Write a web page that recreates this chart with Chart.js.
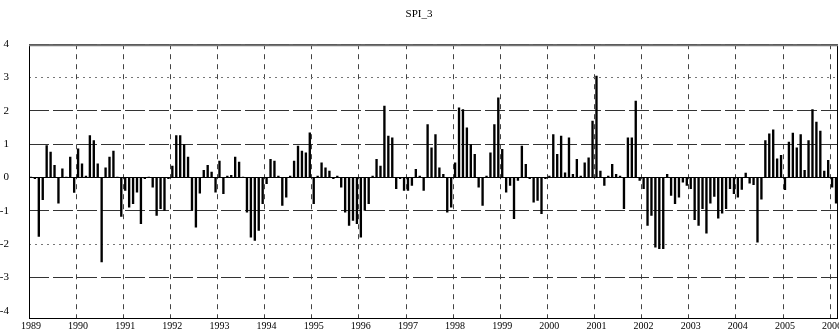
<!DOCTYPE html>
<html>
<head>
<meta charset="utf-8">
<script src="https://cdn.jsdelivr.net/npm/chart.js@4"></script>
<style>
html, body { margin: 0; padding: 0; background: #fff; }
#wrap { width: 839px; height: 330px; }
</style>
</head>
<body>
<div id="wrap"><canvas id="spiChart" width="839" height="330"></canvas></div>
<script>
// monthly SPI_3, Jan 1989 .. Feb 2006
const years = [1989, 1990, 1991, 1992, 1993, 1994, 1995, 1996, 1997, 1998, 1999, 2000, 2001, 2002, 2003, 2004, 2005, 2006];
const spi3 = [
  0.02, -0.05, -1.78, -0.68, 0.97, 0.77, 0.37, -0.78, 0.27, 0.02, 0.62, -0.46,   // 1989
  0.87, 0.42, 0.05, 1.27, 1.12, 0.42, -2.55, 0.3, 0.62, 0.8, 0.02, -1.18,         // 1990
  -0.4, -0.9, -0.8, -0.45, -1.4, -0.05, 0.02, -0.3, -1.15, -0.95, -1.0, -0.05,    // 1991
  0.35, 1.27, 1.27, 1.0, 0.62, -1.0, -1.5, -0.48, 0.22, 0.37, 0.17, -0.45,        // 1992
  0.5, -0.5, 0.05, 0.07, 0.62, 0.47, 0.02, -1.05, -1.8, -1.9, -1.6, -0.8,         // 1993
  -0.2, 0.55, 0.5, 0.05, -0.85, -0.6, 0.05, 0.5, 0.95, 0.8, 0.75, 1.35,           // 1994
  -0.8, 0.05, 0.45, 0.3, 0.2, -0.05, 0.05, -0.3, -1.05, -1.45, -1.3, -1.4,        // 1995
  -1.8, -1.0, -0.8, 0.05, 0.55, 0.35, 2.15, 1.25, 1.2, -0.35, -0.05, -0.4,        // 1996
  -0.4, -0.25, 0.25, 0.05, -0.4, 1.6, 0.9, 1.3, 0.3, 0.1, -1.05, -0.9,            // 1997
  0.45, 2.1, 2.05, 1.5, 1.0, 0.7, -0.3, -0.85, 0.05, 0.75, 1.6, 2.4,              // 1998
  0.85, -0.45, -0.25, -1.25, -0.1, 0.95, 0.4, -0.05, -0.75, -0.7, -1.1, -0.05,    // 1999
  0.05, 1.3, 0.7, 1.25, 0.15, 1.2, 0.1, 0.55, 0.05, 0.45, 0.6, 1.7,               // 2000
  3.05, 0.2, -0.25, 0.05, 0.4, 0.1, 0.05, -0.95, 1.2, 1.2, 2.3, -0.1,             // 2001
  -0.35, -1.45, -1.15, -2.1, -2.15, -2.15, 0.1, -0.55, -0.8, -0.6, -0.15, -0.25,  // 2002
  -0.35, -1.28, -1.45, -0.95, -1.68, -0.78, -0.58, -1.23, -1.08, -0.95, -0.35, -0.5, // 2003
  -0.6, -0.37, 0.14, -0.18, -0.23, -1.95, -0.66, 1.12, 1.32, 1.44, 0.57, 0.67,    // 2004
  -0.38, 1.07, 1.34, 0.9, 1.3, 0.22, 1.12, 2.05, 1.67, 1.4, 0.2, 0.52,            // 2005
  -0.3, -0.78                                                                     // 2006
];
const yTicks = [4, 3, 2, 1, 0, -1, -2, -3, -4];

const months = [];
years.forEach(y => { for (let m = 1; m <= 12; m++) months.push(y + '-' + m); });
const labels = months.slice(0, spi3.length);

const serif = 'Liberation Serif, Times New Roman, serif';

// box round the plot
const framePlugin = {
  id: 'frame',
  afterDraw(chart) {
    const { ctx, chartArea: a } = chart;
    ctx.save();
    ctx.strokeStyle = '#000';
    ctx.lineWidth = 1;
    ctx.strokeRect(a.left + 0.5, a.top + 0.5, a.right - a.left - 1, a.bottom - a.top - 1);
    ctx.strokeStyle = '#777';
    ctx.lineWidth = 2;
    ctx.beginPath();
    ctx.moveTo(a.left, a.top + 1);
    ctx.lineTo(a.right, a.top + 1);
    ctx.stroke();
    ctx.restore();
  }
};

new Chart(document.getElementById('spiChart'), {
  type: 'bar',
  data: {
    labels: labels,
    datasets: [{
      label: 'SPI_3',
      data: spi3,
      backgroundColor: '#000',
      borderWidth: 0,
      barPercentage: 0.6,
      categoryPercentage: 1.0
    }]
  },
  options: {
    responsive: false,
    animation: false,
    devicePixelRatio: 1,
    layout: { padding: { left: 0, right: 1, top: 0, bottom: 0 } },
    plugins: {
      legend: { display: false },
      tooltip: { enabled: false },
      title: {
        display: true,
        text: 'SPI_3',
        color: '#000',
        font: { family: serif, size: 11, weight: 'normal' },
        padding: { top: 8, bottom: 23 }
      }
    },
    scales: {
      x: {
        type: 'category',
        offset: true,
        grid: {
          offset: true,
          drawTicks: false,
          lineWidth: 1,
          color: ctx => (ctx.index % 12 === 0 ? '#444' : 'rgba(0,0,0,0)')
        },
        border: { display: false, dash: [5, 5] },
        ticks: {
          autoSkip: false,
          maxRotation: 0,
          minRotation: 0,
          padding: 1,
          color: '#000',
          font: { family: serif, size: 10 },
          callback: function (v, i) {
            return i % 12 === 0 ? this.getLabelForValue(v).slice(0, 4) : '';
          }
        },
        afterFit: s => { s.height = 11; }
      },
      y: {
        min: -4.25,
        max: 4,
        afterBuildTicks: s => { s.ticks = yTicks.map(v => ({ value: v })); },
        grid: {
          drawTicks: false,
          lineWidth: 1,
          color: ctx => {
            const v = ctx.tick ? ctx.tick.value : null;
            if (v === 0) return '#000';
            if (v === -4) return 'rgba(0,0,0,0)';
            if (v === 3 || v === -2) return '#777';
            return '#333';
          }
        },
        border: {
          display: false,
          dash: ctx => {
            const v = ctx.tick ? ctx.tick.value : null;
            if (v === 0) return [];
            if (v === 3 || v === -2) return [2, 4];
            return [20, 4];
          }
        },
        ticks: {
          padding: 20,
          color: '#000',
          font: { family: serif, size: 11 }
        },
        afterFit: s => {
          s.width = 29;
          s.paddingTop = 0;
          s.paddingBottom = 0;
        }
      }
    }
  },
  plugins: [framePlugin]
});
</script>
</body>
</html>
